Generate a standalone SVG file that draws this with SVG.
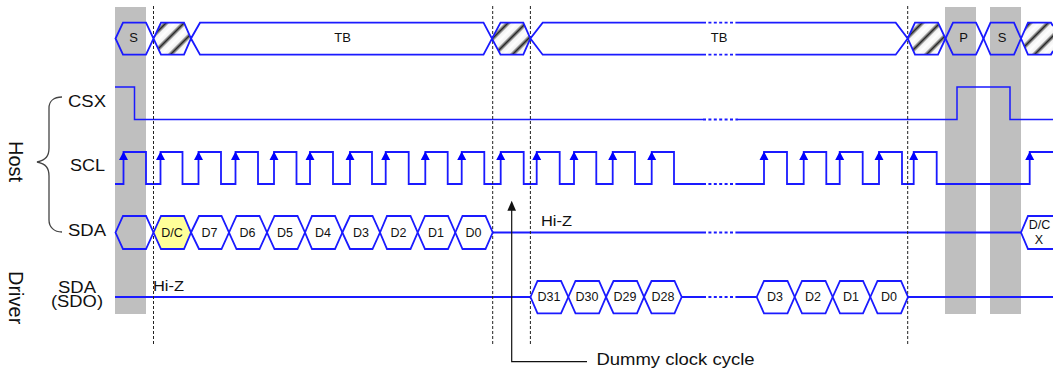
<svg xmlns="http://www.w3.org/2000/svg" width="1053" height="371" viewBox="0 0 1053 371">
<defs>
<linearGradient id="h" gradientUnits="userSpaceOnUse" x1="0" y1="0" x2="9" y2="9" spreadMethod="repeat">
<stop offset="0" stop-color="#fff"/><stop offset="0.28" stop-color="#f2f2f2"/><stop offset="0.5" stop-color="#2a2a2a"/><stop offset="0.72" stop-color="#f2f2f2"/><stop offset="1" stop-color="#fff"/>
</linearGradient>
</defs>
<style>
.w{fill:none;stroke:#1a1aff;stroke-width:1.8}
.t{fill:none;stroke:#1a1aff;stroke-width:1.5}
.b{fill:#fff;stroke:#1a1aff;stroke-width:1.8}
.y{fill:#ffff99;stroke:#1a1aff;stroke-width:1.8}
.f{fill:url(#h)}
.d{fill:none;stroke:#222;stroke-width:1;stroke-dasharray:3 2}
.g{fill:#bfbfbf}
text{font-family:"Liberation Sans",Arial,sans-serif;fill:#111}
.s{font-size:12.5px;text-anchor:middle}
.u{font-size:13px;text-anchor:middle}
.l{font-size:16px}
.z{font-size:14px}
.r{font-size:20px}
.k{fill:none;stroke:#1a1aff;stroke-width:1.8;stroke-dasharray:3 2.4}
</style>
<g id="bands"><rect class="g" x="115" y="7" width="31" height="307"/><rect class="g" x="945" y="7" width="31" height="307"/><rect class="g" x="990" y="7" width="31" height="307"/></g>
<g id="connectors">
<path class="t" d="M115 87H134.5V119.5H703M738 119.5H957V87H1010V119.5H1053"/>
<path class="k" d="M703 119.5H738M703 184H738M703 232.5H738M703 297H738M703 22.7H738M703 54.7H738"/>
<path class="w" d="M115 184H123.5V152H146V184H160.5V152H182.5V184H198.5V152H221V184H235.5V152H258V184H274V152H296.5V184H310V152H333V184H350V152H372V184H385.7V152H408.7V184H425.3V152H447.7V184H461.7V152H484.3V184H500.7V152H523.7V184H536.7V152H559.7V184H574V152H596.3V184H612.7V152H635V184H651.7V152H674V184H703M738 184H764V152H787V184H803.7V152H826.3V184H839.7V152H862.7V184H879V152H902V184H913.7V152H936.7V184H1029.7V152H1053"/>
<path fill="#00f" d="M123.5 151.5l-4.5 8.5h9zM160.5 151.5l-4.5 8.5h9zM198.5 151.5l-4.5 8.5h9zM235.5 151.5l-4.5 8.5h9zM274 151.5l-4.5 8.5h9zM310 151.5l-4.5 8.5h9zM350 151.5l-4.5 8.5h9zM385.7 151.5l-4.5 8.5h9zM425.3 151.5l-4.5 8.5h9zM461.7 151.5l-4.5 8.5h9zM500.7 151.5l-4.5 8.5h9zM536.7 151.5l-4.5 8.5h9zM574 151.5l-4.5 8.5h9zM612.7 151.5l-4.5 8.5h9zM651.7 151.5l-4.5 8.5h9zM764 151.5l-4.5 8.5h9zM803.7 151.5l-4.5 8.5h9zM839.7 151.5l-4.5 8.5h9zM879 151.5l-4.5 8.5h9zM913.7 151.5l-4.5 8.5h9zM1029.7 151.5l-4.5 8.5h9z"/>
<path class="w" d="M492.7 232.5H703M738 232.5H1021"/>
<path class="w" d="M115 297H530.5M681.7 297H703M738 297H756.7M908 297H1053"/>
<path class="d" d="M153.5 6V345M492.7 6V345M530.4 6V345M907.7 6V345"/>
<path d="M587 361.7H511.7V208" fill="none" stroke="#111" stroke-width="1.2"/>
<path d="M511.7 200.7l-4.3 10h8.6z" fill="#111"/>
<path d="M62 97C54 97 49 101 49 108V148C49 156 46 160 37 162C46 164 49 168 49 176V220C49 227 54 232 62 232" fill="none" stroke="#444" stroke-width="1.3"/>
</g>
<g id="bus-top">
<path class="f" d="M153.5 38.5L161 22.7H184L191 38.5L184 54.7H161Z"/>
<path class="f" d="M492.5 38.5L500.5 22.7H523.3L530.4 38.5L523.3 54.7H500.5Z"/>
<path class="f" d="M907.7 38.5L915 22.7H938L945.5 38.5L938 54.7H915Z"/>
<path class="f" d="M1021 38.5L1028 22.7H1051L1053 26V51L1051 54.7H1028Z"/>
<path class="w" d="M703 22.7H542.7L530.4 38.5L523.3 54.7H500.5L483.5 22.7H200L191 38.5L184 54.7H161L146 22.7H123L115.5 38.5L123 54.7H146L161 22.7H184L191 38.5L200 54.7H483.5L500.5 22.7H523.3L530.4 38.5L542.7 54.7H703"/>
<path class="w" d="M738 22.7H895.7L907.7 38.5L915 54.7H938L945.5 38.5L953 22.7H976L983.5 38.5L990.5 54.7H1014L1021 38.5L1028 22.7H1051L1053 26"/>
<path class="w" d="M738 54.7H895.7L907.7 38.5L915 22.7H938L945.5 38.5L953 54.7H976L983.5 38.5L990.5 22.7H1014L1021 38.5L1028 54.7H1051L1053 51"/>
</g>
<g id="top-labels"><text class="u" x="133.5" y="42">S</text><text class="u" x="342.5" y="42">TB</text><text class="u" x="719" y="42">TB</text><text class="u" x="963.5" y="42">P</text><text class="u" x="1002" y="42">S</text></g>
<g id="host-sda">
<path class="w" d="M115.5 232.5L123 216H146L153.5 232.5L146 249H123Z"/>
<path class="y" d="M153.5 232.5L161 216H184L191 232.5L184 249H161Z"/>
<path class="b" d="M191 232.5L199 216H221.5L229 232.5L221.5 249H199Z"/>
<path class="b" d="M229 232.5L236.5 216H259.5L267 232.5L259.5 249H236.5Z"/>
<path class="b" d="M267 232.5L274.5 216H297.5L305 232.5L297.5 249H274.5Z"/>
<path class="b" d="M305 232.5L312 216H335L342.3 232.5L335 249H312Z"/>
<path class="b" d="M342.3 232.5L350 216H372.5L380 232.5L372.5 249H350Z"/>
<path class="b" d="M380 232.5L387 216H410.5L417.7 232.5L410.5 249H387Z"/>
<path class="b" d="M417.7 232.5L425 216H448L455.3 232.5L448 249H425Z"/>
<path class="b" d="M455.3 232.5L462.5 216H485.5L492.7 232.5L485.5 249H462.5Z"/>
<path class="b" d="M1053 216H1028L1021 232.5L1028 249H1053"/>
</g>
<g id="host-sda-labels">
<text class="s" x="172" y="236.5">D/C</text><text class="s" x="209.5" y="236.5">D7</text><text class="s" x="247.5" y="236.5">D6</text><text class="s" x="285" y="236.5">D5</text><text class="s" x="323" y="236.5">D4</text><text class="s" x="361" y="236.5">D3</text><text class="s" x="398.5" y="236.5">D2</text><text class="s" x="436" y="236.5">D1</text><text class="s" x="473.5" y="236.5">D0</text>
<text class="s" x="1039.5" y="229">D/C</text><text class="s" x="1039" y="243.5">X</text>
</g>
<g id="driver-sda">
<path class="b" d="M530.5 297L537.5 281H561L568.3 297L561 313.3H537.5Z"/>
<path class="b" d="M568.3 297L575.5 281H599L606 297L599 313.3H575.5Z"/>
<path class="b" d="M606 297L613.5 281H637L644 297L637 313.3H613.5Z"/>
<path class="b" d="M644 297L651.5 281H674.5L681.7 297L674.5 313.3H651.5Z"/>
<path class="b" d="M756.7 297L764 281H787.5L794.7 297L787.5 313.3H764Z"/>
<path class="b" d="M794.7 297L802 281H825.5L832.7 297L825.5 313.3H802Z"/>
<path class="b" d="M832.7 297L840 281H863L870.3 297L863 313.3H840Z"/>
<path class="b" d="M870.3 297L877.5 281H901L908 297L901 313.3H877.5Z"/>
<text class="s" x="549" y="300.5">D31</text><text class="s" x="587" y="300.5">D30</text><text class="s" x="625" y="300.5">D29</text><text class="s" x="663" y="300.5">D28</text><text class="s" x="775" y="300.5">D3</text><text class="s" x="813" y="300.5">D2</text><text class="s" x="851" y="300.5">D1</text><text class="s" x="889" y="300.5">D0</text>
</g>
<g id="labels">
<text class="l" x="68" y="107" textLength="38" lengthAdjust="spacingAndGlyphs">CSX</text>
<text class="l" x="70" y="171" textLength="35" lengthAdjust="spacingAndGlyphs">SCL</text>
<text class="l" x="68" y="236" textLength="38" lengthAdjust="spacingAndGlyphs">SDA</text>
<text class="l"><tspan x="58" y="293" textLength="38" lengthAdjust="spacingAndGlyphs">SDA</tspan><tspan x="51" y="307" textLength="52" lengthAdjust="spacingAndGlyphs">(SDO)</tspan></text>
<text class="z" x="153" y="291" textLength="31" lengthAdjust="spacingAndGlyphs">Hi-Z</text>
<text class="z" x="541" y="225.5" textLength="31" lengthAdjust="spacingAndGlyphs">Hi-Z</text>
<text class="l" x="596.5" y="365" textLength="158" lengthAdjust="spacingAndGlyphs">Dummy clock cycle</text>
<text class="r" transform="translate(9,141) rotate(90)">Host</text>
<text class="r" transform="translate(9,271) rotate(90)">Driver</text>
</g>
</svg>
